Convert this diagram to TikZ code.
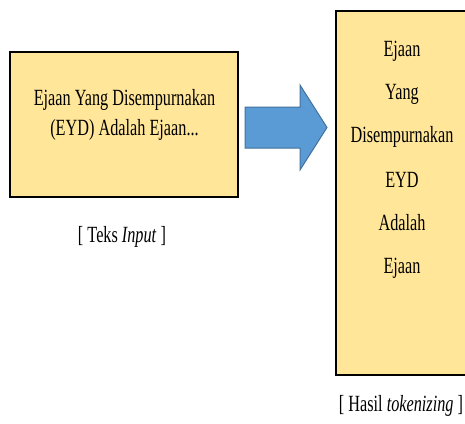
\documentclass[tikz,border=0pt]{standalone}
\usepackage{fontspec}
\setmainfont{Liberation Serif}[FakeStretch=0.70]
\begin{document}
\begin{tikzpicture}[x=1pt,y=-1pt,
  panel/.style={draw=black, line width=2pt, fill=boxfill},
  word/.style={font=\fontsize{23.2}{27}\selectfont, inner sep=0pt, anchor=base},
  caption/.style={font=\fontsize{23.2}{27}\selectfont, inner sep=0pt, anchor=base}]
\definecolor{boxfill}{HTML}{FFE699}
\definecolor{arrowfill}{HTML}{5B9BD5}
\definecolor{arrowline}{HTML}{41719C}
\useasboundingbox (0,0) rectangle (465,423);
\clip (0,0) rectangle (465,423);

% input text panel
\node[panel, minimum width=228pt, minimum height=145pt, inner sep=0pt] (input) at (123.5,124.5) {};
\node[word] (l1) at (124.5,105) {Ejaan Yang Disempurnakan};
\node[word] (l2) at (124.5,135) {(EYD) Adalah Ejaan...};
\node[caption] (capin) at (122,242) {[ Teks \textit{Input} ]};

% block arrow between the panels
\draw[fill=arrowfill, draw=arrowline, line width=1pt]
  (245,107) -- (300,107) -- (300,85) -- (327,127.5) -- (300,170) -- (300,148) -- (245,148) -- cycle;

% token panel (runs past the right edge)
\node[panel, minimum width=150pt, minimum height=364pt, inner sep=0pt, anchor=north west] (tokens) at (335,10) {};
\node[word] (t1) at (402,56.7) {Ejaan};
\node[word] (t2) at (402,99.5) {Yang};
\node[word] (t3) at (402,142.5) {Disempurnakan};
\node[word] (t4) at (402,187.3) {EYD};
\node[word] (t5) at (402,230.5) {Adalah};
\node[word] (t6) at (402,273.5) {Ejaan};
\node[caption] (capout) at (401,411.5) {[ Hasil \textit{tokenizing} ]};
\end{tikzpicture}
\end{document}
